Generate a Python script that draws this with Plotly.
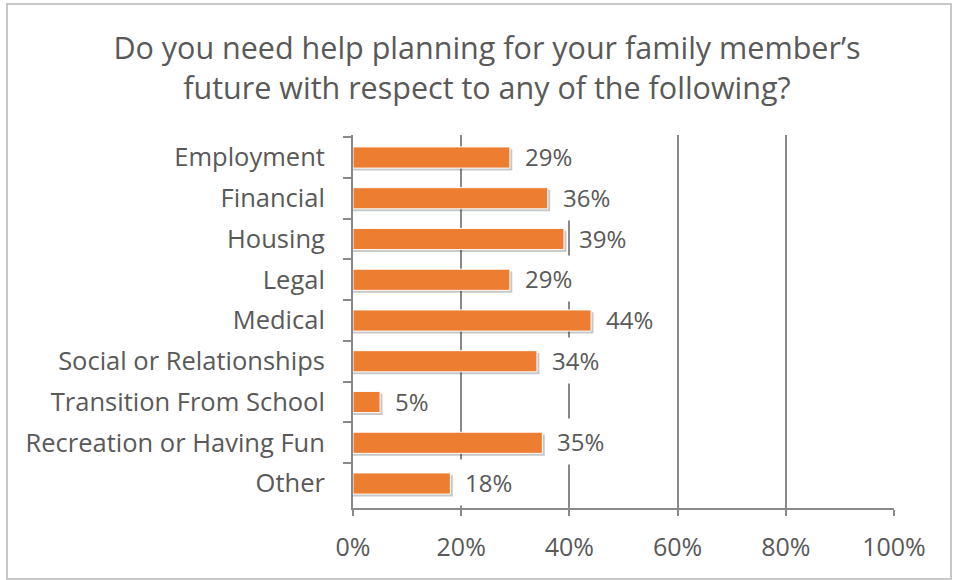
import plotly.graph_objects as go

categories = ["Employment", "Financial", "Housing", "Legal", "Medical",
              "Social or Relationships", "Transition From School",
              "Recreation or Having Fun", "Other"]
values = [29, 36, 39, 29, 44, 34, 5, 35, 18]
x_ticks = [0, 20, 40, 60, 80, 100]
x_ticklabels = ["0%", "20%", "40%", "60%", "80%", "100%"]
title_text = "Do you need help planning for your family member’s<br>future with respect to any of the following?"

FONT = "Open Sans"
GRAY = "#595959"
LINE = "#898989"
ORANGE = "#ED7D31"

W, H = 956, 580
ML, MR, MT, MB = 353, 62, 135, 72
pw, ph = W - ML - MR, H - MT - MB

fig = go.Figure()
# soft shadow
fig.add_trace(go.Bar(
    y=categories, x=[v + 0.45 for v in values], orientation="h",
    width=0.52, offset=-0.26 + 0.06,
    marker=dict(color="rgba(0,0,0,0.22)", line=dict(width=0)),
    hoverinfo="skip", showlegend=False))
fig.add_trace(go.Bar(
    y=categories, x=values, orientation="h",
    width=0.52, offset=-0.26,
    marker=dict(color=ORANGE, line=dict(color="white", width=1)),
    showlegend=False))

for c, v in zip(categories, values):
    fig.add_annotation(x=v, y=c, xref="x", yref="y", text=f"{v}%",
                       xanchor="left", yanchor="middle", xshift=8, yshift=1,
                       showarrow=False, bgcolor="white", borderpad=6,
                       font=dict(family=FONT, size=24, color=GRAY))

fig.add_shape(type="rect", xref="paper", yref="paper",
              x0=(7 - ML) / pw, x1=(951 - ML) / pw,
              y0=(H - MB - 579) / ph, y1=(H - MB - 4) / ph,
              line=dict(color="#c8c8c8", width=2), layer="below")

fig.update_layout(
    width=W, height=H,
    margin=dict(l=ML, r=MR, t=MT, b=MB),
    paper_bgcolor="white", plot_bgcolor="white",
    barmode="overlay",
    title=dict(text=title_text, x=487 / W, xanchor="center", xref="container",
               y=1 - 59 / H, yanchor="middle",
               font=dict(family=FONT, size=30.5, color=GRAY)),
    font=dict(family=FONT, color=GRAY),
)
fig.update_xaxes(range=[0, 100], tickvals=x_ticks, ticktext=x_ticklabels,
                 showgrid=True, gridcolor=LINE, gridwidth=2,
                 showline=True, linecolor=LINE, linewidth=2,
                 ticks="outside", ticklen=6, tickwidth=2, tickcolor=LINE,
                 tickfont=dict(family=FONT, size=25, color=GRAY),
                 ticklabelstandoff=10,
                 zeroline=False, fixedrange=True)
fig.update_yaxes(autorange="reversed", type="category",
                 showgrid=False, showline=True, linecolor=LINE, linewidth=2,
                 ticks="outside", ticklen=8, tickwidth=2, tickcolor=LINE,
                 tickson="boundaries",
                 tickfont=dict(family=FONT, size=25.5, color=GRAY),
                 ticklabelstandoff=21,
                 fixedrange=True)

fig.write_html("out.html", config={"displayModeBar": False},
               post_script="document.body.style.margin='0px';")
